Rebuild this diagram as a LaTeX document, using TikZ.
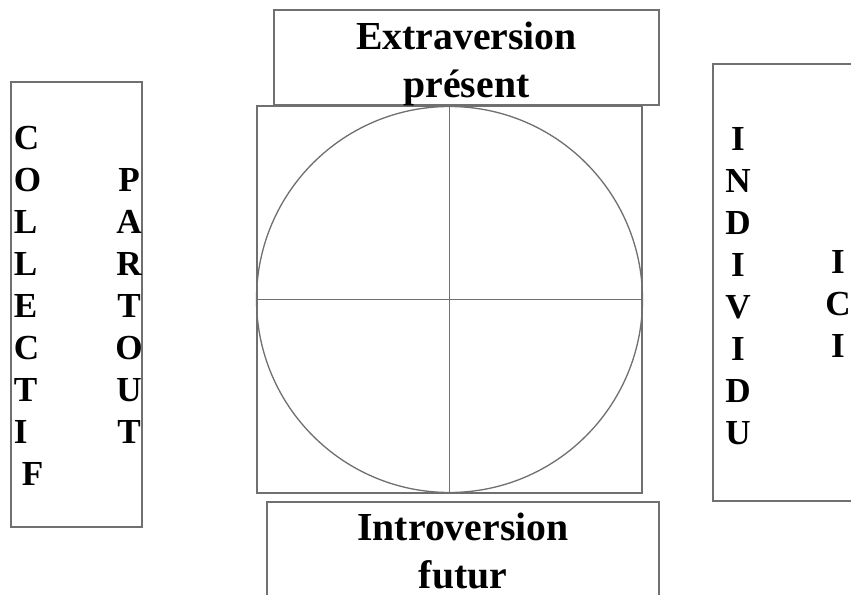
\documentclass[tikz,border=0pt]{standalone}
\usepackage{fontspec}
\setmainfont{Liberation Serif}
\definecolor{framegray}{HTML}{707070}
\tikzstyle{frame} = [rectangle, draw=framegray, line width=0.75pt, inner sep=0pt]
\tikzstyle{titletext} = [inner sep=0pt, align=center, font=\fontsize{22.6}{27}\selectfont\bfseries]
\tikzstyle{letters} = [inner sep=0pt, align=center, font=\fontsize{20}{23.9}\selectfont\bfseries]
\tikzstyle{cross} = [draw=framegray, line width=0.75pt]

\begin{document}
\begin{tikzpicture}
\useasboundingbox (0,0) rectangle (17.02,11.88);

% side panels
\node[frame, minimum width=2.62cm, minimum height=8.9cm] (collectif) at (1.53,5.79) {};
\node[frame, minimum width=3.14cm, minimum height=8.74cm] (individu) at (15.83,6.23) {};

\node[letters, align=left, anchor=west] (colltxt) at (0.27,5.76)
  {C\\O\\L\\L\\E\\C\\T\\I\\\hspace*{0.16cm}F};
\node[letters] (parttxt) at (2.58,5.76) {P\\A\\R\\T\\O\\U\\T};
\node[letters] (indivtxt) at (14.76,6.16) {I\\N\\D\\I\\V\\I\\D\\U};
\node[letters] (icitxt) at (16.76,5.8) {I\\C\\I};

% central square with circle and cross
\node[frame, minimum width=7.7cm, minimum height=7.74cm] (quad) at (8.99,5.89) {};
\draw[cross] (quad.center) circle (3.86);
\draw[cross] (quad.north) -- (quad.south);
\draw[cross] (quad.west) -- (quad.east);

% top and bottom boxes
\node[frame, minimum width=7.7cm, minimum height=1.9cm] (extra) at (9.33,10.73) {};
\node[titletext] (extratxt) at ([yshift=-0.13cm]extra.center) {Extraversion\\présent};
\node[frame, minimum width=7.84cm, minimum height=2.02cm] (intro) at (9.26,0.83) {};
\node[titletext] (introtxt) at ([yshift=0.03cm]intro.center) {Introversion\\futur};
\end{tikzpicture}
\end{document}
